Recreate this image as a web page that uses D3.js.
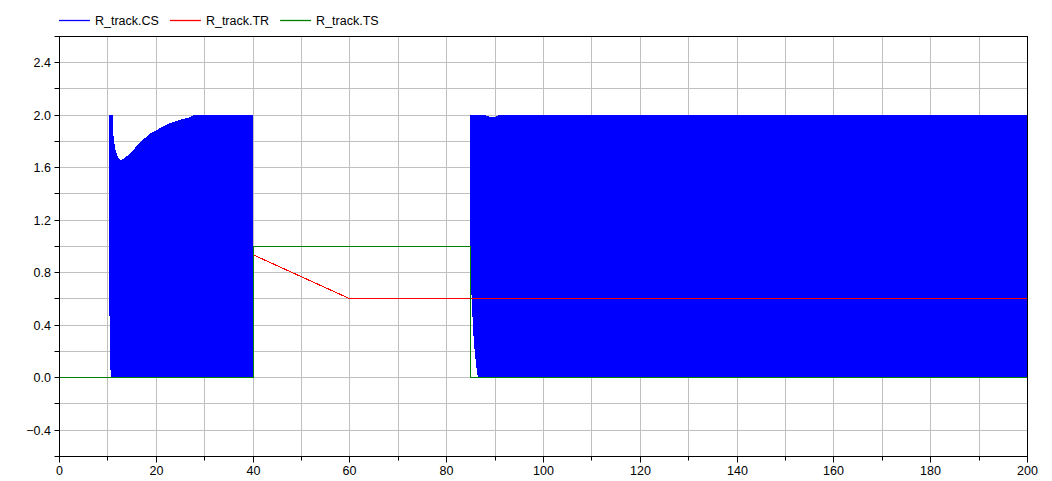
<!DOCTYPE html>
<html><head><meta charset="utf-8">
<script src="https://cdn.jsdelivr.net/npm/d3@7"></script>
<style>
body{margin:0;background:#fff}
svg{display:block}
text{font-family:"Liberation Sans",Arial,Helvetica,sans-serif;font-size:12.5px;fill:#000}
</style></head><body>
<svg id="c" width="1052" height="481"></svg>
<script>
// ---- data ----
const seriesNames = ["R_track.CS", "R_track.TR", "R_track.TS"];
const seriesColors = ["#0000ff", "#ff0000", "#008000"];

// R_track.CS is a fast switching signal; stored as its visible envelope (low/high)
const csTime = [0, 9.92, 9.92, 10.12, 10.12, 10.23, 10.23, 10.43, 10.43, 10.64, 10.64, 10.99,
  11.05, 11.26, 11.47, 11.67, 12.09, 12.5, 12.64, 13.18, 14.57, 16.63, 18.7, 20.76, 22.83, 24.9, 26.96, 27.64,
  39.95, 39.95, 84.81, 84.81, 85.1, 85.33, 85.53, 85.74, 85.95, 86.15, 86.36, 86.5,
  88.1, 88.4, 89.5, 90.5, 90.8, 200];
const csLow = [0, 0, 0, 0, 0, 0, 0.47, 0.47, 0.06, 0.06, 0, 0,
  0, 0, 0, 0, 0, 0, 0, 0, 0, 0, 0, 0, 0, 0, 0, 0,
  0, 0, 0, 0.65, 0.65, 0.465, 0.32, 0.22, 0.145, 0.076, 0.023, 0,
  0, 0, 0, 0, 0, 0];
const csHigh = [0, 0, 2, 2, 0, 0, 2, 2, 2, 2, 2, 2,
  1.877, 1.806, 1.755, 1.717, 1.678, 1.658, 1.655, 1.666, 1.704, 1.793, 1.857, 1.9, 1.938, 1.963, 1.983, 2,
  2, 0, 0, 2, 2, 2, 2, 2, 2, 2, 2, 2,
  2, 1.99, 1.985, 1.99, 2, 2];
const csMidTime = [40, 60, 85];
const csMidValue = [0.935, 0.6, 0.6];

const trTime = [0, 40, 40, 60, 200];
const trValue = [0, 0, 0.935, 0.6, 0.6];

const tsTime = [0, 40, 40, 84.9, 84.9, 200];
const tsValue = [0, 0, 1, 1, 0, 0];

const xTickLabels = [0, 20, 40, 60, 80, 100, 120, 140, 160, 180, 200];
const xGridValues = [0, 10, 20, 30, 40, 50, 60, 70, 80, 90, 100, 110, 120, 130, 140, 150, 160, 170, 180, 190, 200];
const yTickLabels = [-0.4, 0.0, 0.4, 0.8, 1.2, 1.6, 2.0, 2.4];
const yGridValues = [-0.6, -0.4, -0.2, 0, 0.2, 0.4, 0.6, 0.8, 1.0, 1.2, 1.4, 1.6, 1.8, 2.0, 2.2, 2.4, 2.6];

// ---- layout ----
const L = 59.5, R = 1027.5, T = 36.5, B = 456.5;
const svg = d3.select("#c");
const x = d3.scaleLinear().domain([0, 200]).range([L, R]);
const y = d3.scaleLinear().domain([-0.6, 2.6]).range([456.25, 36.25]);
const snap = v => Math.floor(v) + 0.5;

// grid
const grid = svg.append("g").attr("stroke", "#c0c0c0").attr("stroke-width", 1);
xGridValues.forEach(v => {
  const px = snap(x(v));
  grid.append("line").attr("x1", px).attr("x2", px).attr("y1", T).attr("y2", B);
});
yGridValues.forEach(v => {
  const py = snap(y(v));
  grid.append("line").attr("x1", L).attr("x2", R).attr("y1", py).attr("y2", py);
});

// series
const clip = svg.append("clipPath").attr("id", "pc").append("rect")
  .attr("x", L).attr("y", T - 1).attr("width", R - L).attr("height", B - T + 1);
const plot = svg.append("g").attr("clip-path", "url(#pc)");

const csData = csTime.map((t, i) => ({t, lo: csLow[i], hi: csHigh[i]}));
plot.append("path")
  .datum(csData)
  .attr("fill", seriesColors[0])
  .attr("shape-rendering", "crispEdges")
  .attr("d", d3.area().x(d => x(d.t)).y0(d => y(d.lo)).y1(d => y(d.hi)));

const line = d3.line().x(d => x(d[0])).y(d => y(d[1]));
plot.append("path")
  .datum(csMidTime.map((t, i) => [t, csMidValue[i]]))
  .attr("fill", "none").attr("stroke", seriesColors[0]).attr("stroke-width", 1)
  .attr("shape-rendering", "crispEdges").attr("d", line);
plot.append("path")
  .datum(trTime.map((t, i) => [t, trValue[i]]))
  .attr("fill", "none").attr("stroke", seriesColors[1]).attr("stroke-width", 1.1)
  .attr("shape-rendering", "crispEdges").attr("d", line);
plot.append("path")
  .datum(tsTime.map((t, i) => [t, tsValue[i]]))
  .attr("fill", "none").attr("stroke", seriesColors[2]).attr("stroke-width", 1)
  .attr("shape-rendering", "crispEdges").attr("d", line);

// frame
const frame = svg.append("g").attr("stroke", "#000").attr("stroke-width", 1).attr("fill", "none");
frame.append("rect").attr("x", L).attr("y", T).attr("width", R - L).attr("height", B - T);

// y ticks & labels
yGridValues.forEach(v => {
  const py = snap(y(v));
  frame.append("line").attr("x1", L - 5).attr("x2", L).attr("y1", py).attr("y2", py);
});
svg.append("g").selectAll("text").data(yTickLabels).join("text")
  .attr("x", 51).attr("y", d => snap(y(d)))
  .attr("dy", "0.36em").attr("text-anchor", "end")
  .text(d => d3.format(".1f")(d));

// x ticks & labels
xGridValues.forEach(v => {
  const px = snap(x(v));
  const major = xTickLabels.includes(v);
  frame.append("line").attr("x1", px).attr("x2", px).attr("y1", B).attr("y2", B + (major ? 6 : 4));
});
svg.append("g").selectAll("text").data(xTickLabels).join("text")
  .attr("x", d => snap(x(d))).attr("y", 475)
  .attr("text-anchor", "middle")
  .text(d => d);

// legend
let lx = 59;
const leg = svg.append("g");
seriesNames.forEach((name, i) => {
  leg.append("line").attr("x1", lx).attr("x2", lx + 31).attr("y1", 20.5).attr("y2", 20.5)
    .attr("stroke", seriesColors[i]).attr("stroke-width", 1.3);
  const t = leg.append("text").attr("x", lx + 36).attr("y", 25).text(name);
  lx = lx + 36 + t.node().getComputedTextLength() + 11;
});
</script></body></html>
